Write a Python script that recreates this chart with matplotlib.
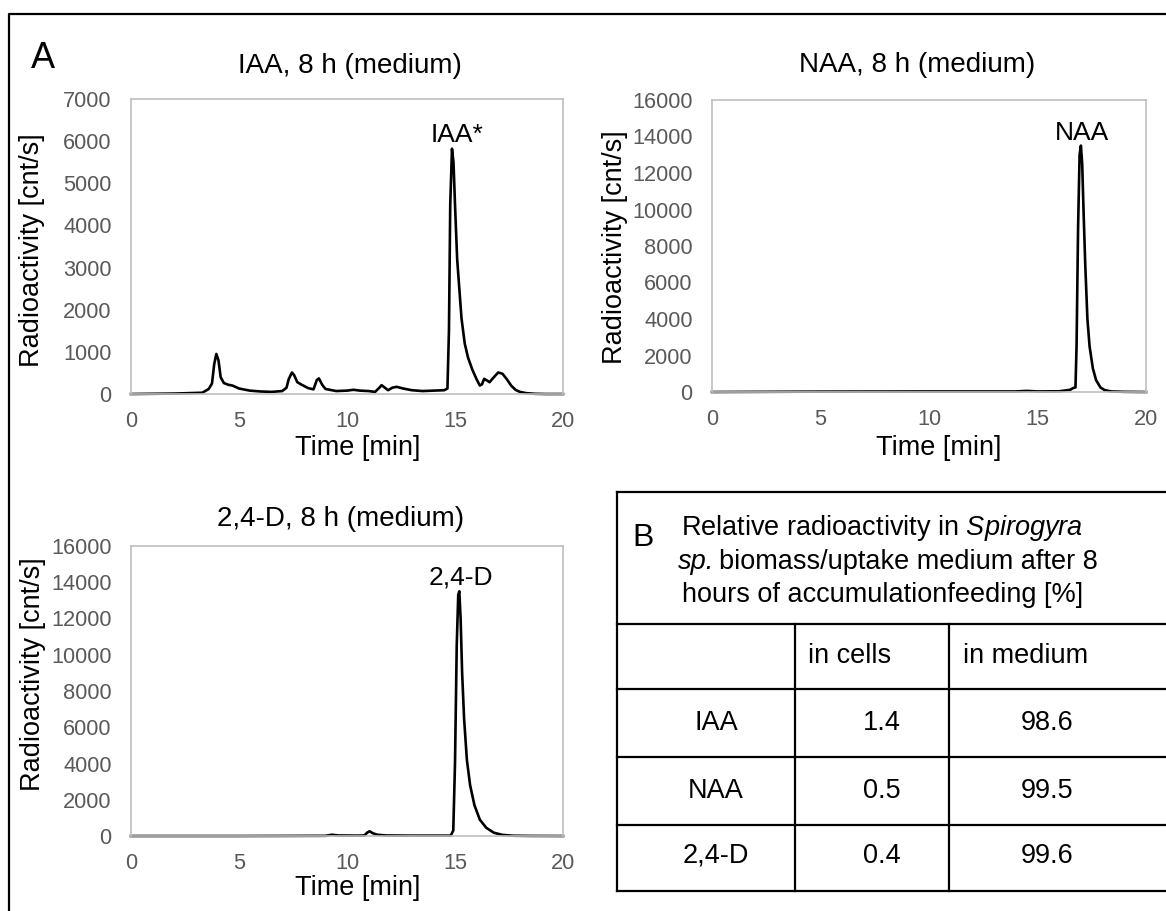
import matplotlib
matplotlib.use("Agg")
import matplotlib.pyplot as plt

plt.rcParams["font.family"] = ["Liberation Sans", "DejaVu Sans"]
plt.rcParams["mathtext.fontset"] = "custom"
plt.rcParams["mathtext.rm"] = "Liberation Sans"
plt.rcParams["mathtext.it"] = "Liberation Sans:italic"

# chromatogram traces (time [min], radioactivity [cnt/s])
iaa_time = [0, 2, 3.3, 3.6, 3.75, 3.85, 3.95, 4.05, 4.15, 4.3, 4.5, 4.7, 5.0, 5.5, 6.0, 6.5,
            7.0, 7.2, 7.3, 7.45, 7.55, 7.7, 7.9, 8.2, 8.45, 8.6, 8.7, 8.85, 9.0, 9.5, 10.0,
            10.3, 10.6, 11.0, 11.3, 11.5, 11.6, 11.75, 11.9, 12.1, 12.3, 12.6, 13.0, 13.5,
            14.0, 14.5, 14.65, 14.72, 14.78, 14.86, 14.93, 15.0, 15.1, 15.2, 15.3, 15.45,
            15.6, 15.8, 16.0, 16.15, 16.25, 16.35, 16.45, 16.6, 16.8, 17.0, 17.2, 17.4,
            17.6, 17.8, 18.0, 18.3, 18.7, 19.2, 20]
iaa_counts = [0, 10, 30, 120, 250, 700, 950, 800, 400, 260, 220, 200, 130, 80, 60, 50,
              70, 150, 350, 510, 450, 280, 220, 140, 110, 330, 370, 220, 120, 70, 80,
              100, 80, 70, 50, 150, 210, 150, 90, 150, 170, 130, 90, 70,
              80, 90, 130, 1500, 4500, 5820, 5500, 4500, 3200, 2500, 1800, 1200,
              870, 580, 350, 200, 230, 360, 330, 280, 400, 510, 480, 350,
              200, 100, 50, 20, 5, 0, 0]

naa_time = [0, 5, 10, 14.0, 14.5, 15.0, 16.0, 16.5, 16.65, 16.75, 16.8, 16.87, 16.94, 17.0,
            17.06, 17.12, 17.2, 17.3, 17.4, 17.55, 17.7, 17.9, 18.1, 18.4, 19, 20]
naa_counts = [0, 20, 30, 30, 60, 30, 40, 120, 220, 250, 2500, 9000, 13000, 13500,
              12500, 10000, 7000, 4000, 2500, 1300, 650, 250, 100, 30, 10, 0]

d24_time = [0, 5, 9.0, 9.3, 9.6, 10.5, 10.8, 10.95, 11.05, 11.2, 11.4, 11.8, 13, 14.8,
            14.92, 15.0, 15.08, 15.15, 15.2, 15.26, 15.33, 15.42, 15.55, 15.7, 15.9,
            16.15, 16.45, 16.8, 17.2, 17.7, 18.5, 20]
d24_counts = [0, 0, 10, 70, 30, 20, 30, 200, 260, 150, 70, 30, 20, 20,
              300, 4000, 10500, 13300, 13500, 12000, 9000, 6500, 4200, 2800, 1700,
              900, 450, 180, 60, 15, 5, 0]

# table B
compounds = ["IAA", "NAA", "2,4-D"]
in_cells = ["1.4", "0.5", "0.4"]
in_medium = ["98.6", "99.5", "99.6"]
col_heads = ["in cells", "in medium"]

W, H = 1166, 911
fig = plt.figure(figsize=(W / 100, H / 100), dpi=100)

tick_col = "#595959"
lab_size = 19.5


def px(l, t, r, b):
    return [l / W, (H - b) / H, (r - l) / W, (b - t) / H]


def chrom(rect, t, y, ymax, peak, peak_xy):
    ax = fig.add_axes(rect)
    ax.plot(t, y, color="black", lw=1.9, solid_joinstyle="round", clip_on=False)
    ax.set_xlim(0, 20)
    ax.set_ylim(0, ymax)
    ax.set_xticks([0, 5, 10, 15, 20])
    step = 1000 if ymax == 7000 else 2000
    ax.set_yticks(range(0, ymax + 1, step))
    for s in ax.spines.values():
        s.set_color("#BFBFBF")
        s.set_linewidth(1.2)
    ax.tick_params(length=0, labelsize=15.7, labelcolor=tick_col)
    ax.tick_params(axis="x", pad=12)
    ax.tick_params(axis="y", pad=14)
    ax.text(peak_xy[0], peak_xy[1], peak, ha="center", va="baseline", fontsize=19)
    return ax


chrom(px(131, 99, 563, 394), iaa_time, iaa_counts, 7000, "IAA*", (15.1, 5980))
chrom(px(712, 100, 1146, 392), naa_time, naa_counts, 16000, "NAA", (17.05, 13800))
chrom(px(131, 546, 563, 836), d24_time, d24_counts, 16000, "2,4-D", (15.28, 13900))

# overlay in pixel coordinates for frame, titles, labels and table
ov = fig.add_axes([0, 0, 1, 1], zorder=-1)
ov.set_xlim(0, W)
ov.set_ylim(H, 0)
ov.axis("off")

ov.plot([9, 9, W + 5], [H + 5, 14, 14], color="black", lw=1.6)

ov.text(350, 73, "IAA, 8 h (medium)", ha="center", va="baseline", fontsize=20)
ov.text(917, 72, "NAA, 8 h (medium)", ha="center", va="baseline", fontsize=20)
ov.text(341, 526, "2,4-D, 8 h (medium)", ha="center", va="baseline", fontsize=20)

ov.text(358, 455, "Time [min]", ha="center", va="baseline", fontsize=lab_size)
ov.text(939, 455, "Time [min]", ha="center", va="baseline", fontsize=lab_size)
ov.text(358, 895, "Time [min]", ha="center", va="baseline", fontsize=lab_size)

ov.text(32, 250, "Radioactivity [cnt/s]", rotation=90, ha="center", va="center", fontsize=lab_size)
ov.text(615, 247, "Radioactivity [cnt/s]", rotation=90, ha="center", va="center", fontsize=lab_size)
ov.text(33, 674, "Radioactivity [cnt/s]", rotation=90, ha="center", va="center", fontsize=lab_size)

ov.text(43, 68, "A", ha="center", va="baseline", fontsize=26)

# table B
tl, tr = 617, W + 5
row_y = [492, 624, 689, 757, 825, 891]
col_x = [617, 795, 949]
ov.plot([tl, tl], [row_y[0], row_y[-1]], color="black", lw=1.6)
for yy in row_y:
    ov.plot([tl, tr], [yy, yy], color="black", lw=1.6)
for xx in col_x[1:]:
    ov.plot([xx, xx], [row_y[1], row_y[-1]], color="black", lw=1.6)

tsize = 19.5
ov.text(643, 546, "B", ha="center", va="baseline", fontsize=23)
ov.text(882, 535, "Relative radioactivity in $\\mathit{Spirogyra}$", ha="center",
        va="baseline", fontsize=tsize)
ov.text(678, 569, "sp.", ha="left", va="baseline", fontsize=tsize, style="italic")
ov.text(1098, 569, "biomass/uptake medium after 8", ha="right", va="baseline",
        fontsize=tsize)
ov.text(883, 602, "hours of accumulationfeeding [%]", ha="center", va="baseline",
        fontsize=tsize)

ov.text(808, 663, col_heads[0], ha="left", va="baseline", fontsize=tsize)
ov.text(963, 663, col_heads[1], ha="left", va="baseline", fontsize=tsize)
row_base = [730, 798, 863]
for c, a, b, yb in zip(compounds, in_cells, in_medium, row_base):
    ov.text(716, yb, c, ha="center", va="baseline", fontsize=tsize)
    ov.text(882, yb, a, ha="center", va="baseline", fontsize=tsize)
    ov.text(1047, yb, b, ha="center", va="baseline", fontsize=tsize)

fig.savefig("out.png", dpi=100)
